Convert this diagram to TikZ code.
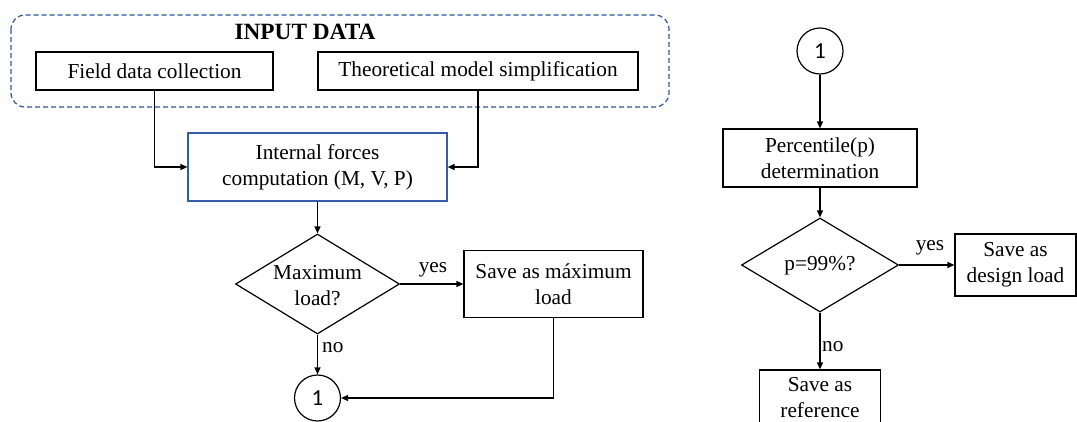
\documentclass[tikz,border=0pt]{standalone}
\usepackage{fontspec}
\setmainfont{Liberation Serif}
\newfontfamily\cfont{Carlito}
\usetikzlibrary{shapes.geometric,arrows.meta}
\definecolor{dashblue}{RGB}{47,85,151}
\definecolor{boxblue}{RGB}{52,92,168}
\begin{document}
\begin{tikzpicture}[x=1pt,y=-1pt,
  every node/.style={font=\fontsize{21.3}{26}\selectfont, inner sep=0pt},
  box/.style={draw, line width=1.2pt, align=center, rectangle},
  dia/.style={draw, line width=1.2pt, diamond, inner sep=0pt},
  conn/.style={draw, line width=1.2pt, circle, inner sep=0pt, minimum size=46pt, font=\cfont\fontsize{23}{23}\selectfont},
  arr/.style={line width=1.2pt, -{Triangle[length=7pt,width=6pt]}},
  lbl/.style={font=\fontsize{21.3}{26}\selectfont}
]
\clip (0,0) rectangle (1077,421);
\fill[white] (0,0) rectangle (1077,421);

% input data group
\draw[dashblue, line width=1.2pt, dash pattern=on 5pt off 3pt, rounded corners=14pt] (11,15) rectangle (669,107);
\node[font=\bfseries\fontsize{23.3}{26}\selectfont] (title) at (305,32) {INPUT DATA};
\node[box, minimum width=237pt, minimum height=38pt] (field) at (154.5,71) {Field data collection};
\node[box, minimum width=320pt, minimum height=38pt] (theo) at (478,71) {Theoretical model simplification};

\node[box, draw=boxblue, minimum width=259pt, minimum height=68pt] (ifc) at (317.5,167) {Internal forces\\computation (M, V, P)};

\node[dia, minimum width=164pt, minimum height=100pt] (d1) at (317.5,284) {};
\node[align=center] (d1t) at (317.5,286) {Maximum\\load?};

\node[box, minimum width=179pt, minimum height=67pt] (smax) at (553.5,284) {Save as máximum\\load};

\node[conn] (c1) at (317.5,398) {1};

\draw[arr] (field.south) |- (ifc.west);
\draw[arr] (theo.south) |- (ifc.east);
\draw[arr] (ifc.south) -- (d1.north);
\draw[arr] (d1.east) -- (smax.west);
\node[lbl] (yes1) at (433,270) {yes};
\draw[arr] (d1.south) -- (c1.north);
\node[lbl, anchor=west] (no1) at (322,348) {no};
\draw[arr] (smax.south) |- (c1.east);

% right part
\node[conn] (c2) at (820,51) {1};
\node[box, minimum width=194pt, minimum height=58pt] (perc) at (820,158) {Percentile(p)\\determination};
\node[dia, minimum width=157pt, minimum height=94pt] (d2) at (820,265) {};
\node (d2t) at (820,266) {p=99\%?};
\node[box, minimum width=121pt, minimum height=62pt] (design) at (1015.5,265) {Save as\\design load};
\node[box, minimum width=121pt, minimum height=56pt] (ref) at (820,398) {Save as\\reference};

\draw[arr] (c2.south) -- (perc.north);
\draw[arr] (perc.south) -- (d2.north);
\draw[arr] (d2.east) -- (design.west);
\node[lbl] (yes2) at (930,248) {yes};
\draw[arr] (d2.south) -- (ref.north);
\node[lbl, anchor=west] (no2) at (822,347) {no};
\end{tikzpicture}
\end{document}
